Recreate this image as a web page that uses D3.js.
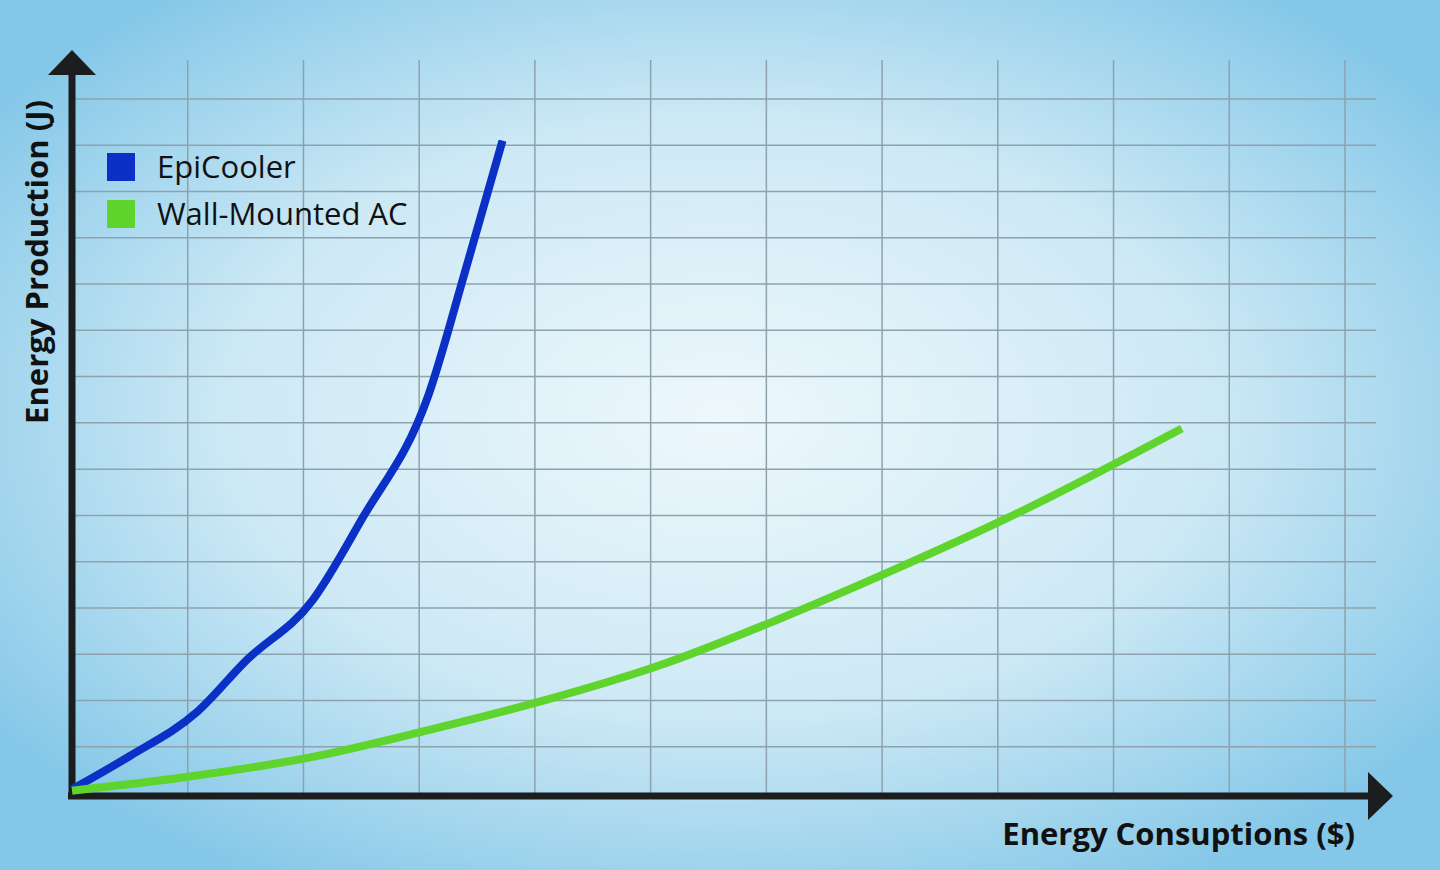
<!DOCTYPE html>
<html lang="en">
<head>
<meta charset="UTF-8" />
<title>Energy chart</title>
<script src="https://cdnjs.cloudflare.com/ajax/libs/d3/7.6.1/d3.min.js"></script>
<style>
  body { margin: 0; overflow: hidden; }
</style>
</head>
<body>
<div id="chart"></div>
<script>
  // values, in grid units
  const seriesNames = ["EpiCooler", "Wall-Mounted AC"];
  const seriesColors = ["#0b30c6", "#5fd42c"];
  const epiX = [0, 0.5, 1.08, 1.5, 2.08, 2.5, 3.08, 3.4, 3.72];
  const epiY = [0.08, 0.8, 1.75, 2.85, 4.17, 5.9, 8.6, 11.3, 14.1];
  const acX = [0, 1, 2.08, 3.08, 4.08, 5.08, 6.08, 7.08, 8.08, 9.59];
  const acY = [0.05, 0.35, 0.78, 1.36, 2.0, 2.76, 3.73, 4.8, 5.94, 7.88];
  const xTicks = d3.range(1, 12);
  const yTicks = d3.range(1, 16);

  const width = 1440, height = 870;
  const svg = d3.select("#chart").append("svg")
    .attr("width", width).attr("height", height)
    .style("font-family", "'Open Sans', sans-serif");

  const defs = svg.append("defs");
  const grad = defs.append("radialGradient").attr("id", "bg")
    .attr("cx", "50%").attr("cy", "48%").attr("r", "62%");
  grad.append("stop").attr("offset", "0%").attr("stop-color", "#eef8fc");
  grad.append("stop").attr("offset", "55%").attr("stop-color", "#cde9f5");
  grad.append("stop").attr("offset", "100%").attr("stop-color", "#84c7e8");
  svg.append("rect").attr("width", width).attr("height", height).attr("fill", "url(#bg)");

  const x = d3.scaleLinear().domain([0, 11]).range([72, 1345]);
  const y = d3.scaleLinear().domain([0, 15]).range([793, 99]);

  // grid
  svg.append("g").selectAll("line").data(xTicks).join("line")
    .attr("x1", d => x(d)).attr("x2", d => x(d))
    .attr("y1", 60).attr("y2", 793)
    .attr("stroke", "#8ea2ad").attr("stroke-width", 1.5);
  svg.append("g").selectAll("line").data(yTicks).join("line")
    .attr("x1", 72).attr("x2", 1376)
    .attr("y1", d => y(d)).attr("y2", d => y(d))
    .attr("stroke", "#8ea2ad").attr("stroke-width", 1.5);

  // axes with arrows
  const axisColor = "#1b1d1e";
  svg.append("line").attr("x1", 72).attr("x2", 72).attr("y1", 70).attr("y2", 797)
    .attr("stroke", axisColor).attr("stroke-width", 7);
  svg.append("line").attr("x1", 68).attr("x2", 1372).attr("y1", 796).attr("y2", 796)
    .attr("stroke", axisColor).attr("stroke-width", 7);
  svg.append("path").attr("d", "M48,75 L72,50 L96,75 Z").attr("fill", axisColor);
  svg.append("path").attr("d", "M1368,772 L1393,796 L1368,820 Z").attr("fill", axisColor);

  // curves
  const line = d3.line().x(d => x(d[0])).y(d => y(d[1])).curve(d3.curveMonotoneX);
  const series = [d3.zip(epiX, epiY), d3.zip(acX, acY)];
  svg.append("g").selectAll("path").data(series).join("path")
    .attr("d", line).attr("fill", "none")
    .attr("stroke", (d, i) => seriesColors[i]).attr("stroke-width", 8);

  // legend
  const leg = svg.append("g").selectAll("g").data(seriesNames).join("g")
    .attr("transform", (d, i) => `translate(107,${153 + i * 47})`);
  leg.append("rect").attr("width", 28).attr("height", 28)
    .attr("fill", (d, i) => seriesColors[i]);
  leg.append("text").attr("x", 50).attr("y", 25).text(d => d)
    .attr("font-size", 31).attr("fill", "#111");

  // axis titles
  svg.append("text").attr("x", 1355).attr("y", 845).attr("text-anchor", "end")
    .attr("font-size", 31).attr("font-weight", "bold").attr("fill", "#111")
    .text("Energy Consuptions ($)");
  svg.append("text").attr("transform", "translate(48,262) rotate(-90)")
    .attr("text-anchor", "middle")
    .attr("font-size", 31).attr("font-weight", "bold").attr("fill", "#111")
    .text("Energy Production (J)");
</script>
</body>
</html>
